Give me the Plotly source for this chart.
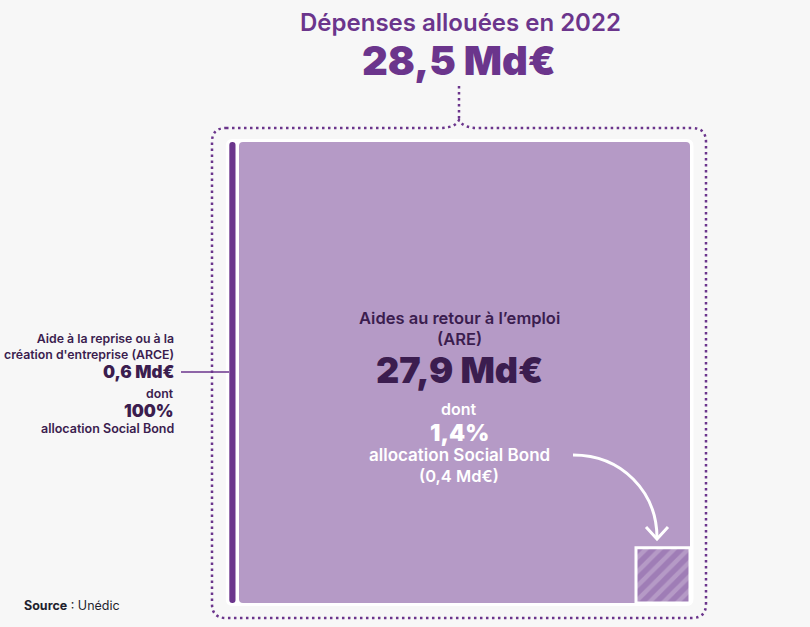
import math
import plotly.graph_objects as go

# ---------------- data ----------------
categories = ["Aides au retour à l’emploi (ARE)", "Aide à la reprise ou à la création d'entreprise (ARCE)"]
amounts_bn = [27.9, 0.6]            # Md€
social_bond_share_pct = [1.4, 100]  # %
social_bond_bn = [0.4, 0.6]         # Md€
total_bn = 28.5
year = 2022

# ---------------- styling / layout constants ----------------
W, H = 810, 627
BG = "#f7f7f7"
PURPLE = "#6b358c"
LILAC = "#b59ac6"
HATCH = "#8a5fa6"
DARK = "#3b1d4f"
FONT = "Inter, 'Open Sans', sans-serif"

side = math.sqrt(amounts_bn[0])           # ARE square side (area ∝ value)
SX = 451 / side                           # px per unit (x)
SY = 461 / side                           # px per unit (y)
X0PX, Y0PX = 239, 603                     # bottom-left of the ARE square on the page


def P(px, py):
    return ((px - X0PX) / SX, (Y0PX - py) / SY)


def fmt(v):
    return f"{v:.1f}".replace(".", ",")


def rrect(x0, y0, x1, y1, rx, ry):
    return (f"M{x0+rx},{y0} L{x1-rx},{y0} Q{x1},{y0} {x1},{y0+ry} "
            f"L{x1},{y1-ry} Q{x1},{y1} {x1-rx},{y1} L{x0+rx},{y1} "
            f"Q{x0},{y1} {x0},{y1-ry} L{x0},{y0+ry} Q{x0},{y0} {x0+rx},{y0} Z")


fig = go.Figure()
shapes = []

# ARCE bar width: same height as the ARE square, area ∝ value
arce_w = side * amounts_bn[1] / amounts_bn[0]
gap_x = 3.5 / SX
gap_y = 3.0 / SY

# white outline behind everything
shapes.append(dict(type="path", xref="x", yref="y", layer="below",
                   path=rrect(-arce_w - gap_x, -gap_y, side + gap_x, side + gap_y, 7 / SX, 7 / SY),
                   fillcolor="white", line=dict(width=0)))
# ARE square
shapes.append(dict(type="path", xref="x", yref="y", layer="below",
                   path=rrect(0, 0, side, side, 4 / SX, 4 / SY),
                   fillcolor=LILAC, line=dict(width=0)))
# ARCE bar
shapes.append(dict(type="path", xref="x", yref="y", layer="below",
                   path=rrect(-arce_w, 0, -gap_x, side, 3 / SX, 3 / SY),
                   fillcolor=PURPLE, line=dict(width=0)))

# Social bond part of ARE: hatched square, area ∝ value
hb = math.sqrt(social_bond_bn[0])
hx0, hx1 = side - hb, side
fig.add_trace(go.Scatter(
    x=[hx0, hx1, hx1, hx0, hx0], y=[0, 0, hb, hb, 0],
    mode="lines", fill="toself", fillcolor=LILAC,
    fillpattern=dict(shape="/", fgcolor=HATCH, bgcolor=LILAC, size=10, solidity=0.55),
    line=dict(color="white", width=3), hoverinfo="skip", showlegend=False))

# dotted border with top notch
r = 14
pts = dict(
    a=P(212 + r, 128), b=P(440, 128), c=P(455, 128), d=P(459, 120), e=P(463, 128), f=P(478, 128),
    g=P(706 - r, 128), g1=P(706, 128), g2=P(706, 128 + r),
    h=P(706, 618 - r), h1=P(706, 618), h2=P(706 - r, 618),
    i=P(212 + r, 618), i1=P(212, 618), i2=P(212, 618 - r),
    j=P(212, 128 + r), j1=P(212, 128),
)


def s(p):
    return f"{p[0]},{p[1]}"


border = (f"M{s(pts['a'])} L{s(pts['b'])} Q{s(pts['c'])} {s(pts['d'])} Q{s(pts['e'])} {s(pts['f'])} "
          f"L{s(pts['g'])} Q{s(pts['g1'])} {s(pts['g2'])} L{s(pts['h'])} Q{s(pts['h1'])} {s(pts['h2'])} "
          f"L{s(pts['i'])} Q{s(pts['i1'])} {s(pts['i2'])} L{s(pts['j'])} Q{s(pts['j1'])} {s(pts['a'])}")
dot = dict(color=PURPLE, width=2.5, dash="2.5px,3.5px")
shapes.append(dict(type="path", xref="x", yref="y", layer="above", path=border, line=dot))
v0, v1 = P(459, 86), P(459, 120)
shapes.append(dict(type="line", xref="x", yref="y", layer="above",
                   x0=v0[0], y0=v0[1], x1=v1[0], y1=v1[1], line=dot))

# leader line for ARCE
l0, l1 = P(181, 372), P(229, 372)
shapes.append(dict(type="line", xref="x", yref="y", layer="above",
                   x0=l0[0], y0=l0[1], x1=l1[0], y1=l1[1], line=dict(color=PURPLE, width=1.5)))

# white curved arrow
a0, c1, c2, a1 = P(573, 455), P(622, 455), P(657, 492), P(657, 538)
shapes.append(dict(type="path", xref="x", yref="y", layer="above",
                   path=f"M{s(a0)} C{s(c1)} {s(c2)} {s(a1)}",
                   line=dict(color="white", width=3)))
k0, k1, k2 = P(646, 527), P(657, 539), P(668, 527)
shapes.append(dict(type="path", xref="x", yref="y", layer="above",
                   path=f"M{s(k0)} L{s(k1)} L{s(k2)}",
                   line=dict(color="white", width=3)))

# ---------------- texts ----------------
ann = []


def T(text, px, py, size, color, weight=700, align="center", xanchor="center"):
    ann.append(dict(text=text, x=px / W, y=1 - py / H, xref="paper", yref="paper",
                    xanchor=xanchor, yanchor="middle", align=align, showarrow=False,
                    borderpad=0,
                    font=dict(family=FONT, size=size, color=color, weight=weight)))


T(f"Dépenses allouées en {year}", 461, 22, 24, PURPLE, 600)
T(f"{fmt(total_bn)} Md€", 459, 60, 40, PURPLE, 900)

T("Aides au retour à l’emploi<br>(ARE)", 459, 328, 16.5, DARK, 600)
T(f"{fmt(amounts_bn[0])} Md€", 459, 370, 36, DARK, 900)
T("dont", 459, 409, 16, "white", 600)
T(f"{fmt(social_bond_share_pct[0])}%", 459, 433, 23, "white", 900)
T("allocation Social Bond", 459, 455, 17, "white", 600)
T(f"({fmt(social_bond_bn[0])} Md€)", 459, 476, 16.5, "white", 600)

RX = 175
T("Aide à la reprise ou à la<br>création d'entreprise (ARCE)", RX, 346, 12.3, DARK, 600, "right", "right")
T(f"{fmt(amounts_bn[1])} Md€", RX, 372, 17, DARK, 900, "right", "right")
T("dont", RX, 393, 12.3, DARK, 600, "right", "right")
T(f"{social_bond_share_pct[1]}%", RX, 411, 17, DARK, 900, "right", "right")
T("allocation Social Bond", RX, 428, 12.5, DARK, 600, "right", "right")

ann.append(dict(text="<b>Source</b> : Unédic", x=22 / W, y=1 - 605 / H, xref="paper", yref="paper",
                xanchor="left", yanchor="middle", showarrow=False,
                font=dict(family=FONT, size=12.5, color="#1f1f2e")))

fig.update_layout(
    width=W, height=H, margin=dict(l=0, r=0, t=0, b=0),
    paper_bgcolor=BG, plot_bgcolor=BG,
    xaxis=dict(range=[-X0PX / SX, (W - X0PX) / SX], visible=False, fixedrange=True),
    yaxis=dict(range=[-(H - Y0PX) / SY, Y0PX / SY], visible=False, fixedrange=True),
    shapes=shapes, annotations=ann, showlegend=False, hovermode=False,
)

fig.write_html("out.html", config={"displayModeBar": False})
